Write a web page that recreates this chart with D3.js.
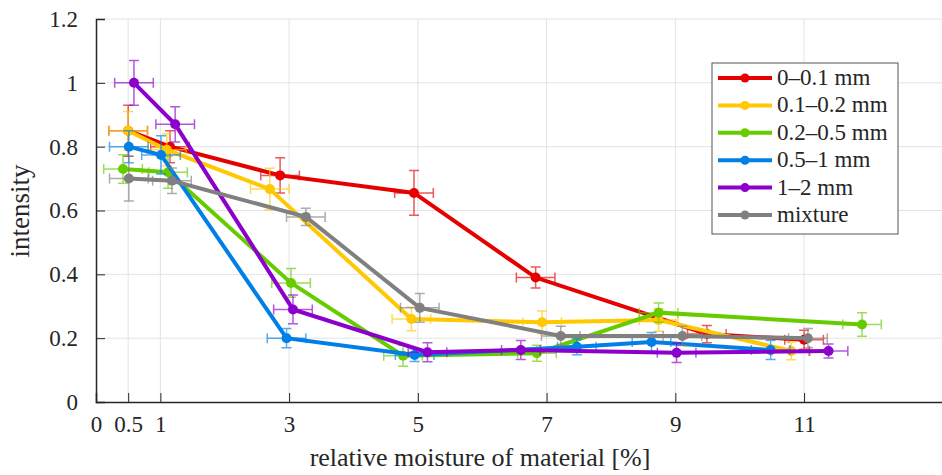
<!DOCTYPE html>
<html>
<head>
<meta charset="utf-8">
<script src="https://cdn.jsdelivr.net/npm/d3@7"></script>
<style>
	body { margin: 0; background: #fff; }
	svg text { font-family: "Liberation Serif", "DejaVu Serif", serif; fill: #262626; }
</style>
</head>
<body>
<svg id="chart" width="942" height="475"></svg>
<script>
// Tick labels
const xTicks = [0, 0.5, 1, 3, 5, 7, 9, 11];
const yTicks = [0, 0.2, 0.4, 0.6, 0.8, 1, 1.2];

// Series
const seriesNames = ["0\u20130.1 mm", "0.1\u20130.2 mm", "0.2\u20130.5 mm", "0.5\u20131 mm", "1\u20132 mm", "mixture"];
const seriesColors = ["#e60000", "#ffc800", "#66cc00", "#0080e6", "#8c00cc", "#808080"];

const moisture = [
	[0.5, 1.15, 2.86, 4.94, 6.83, 9.49, 11.0],
	[0.5, 1.1, 2.7, 4.9, 6.93, 8.74, 10.8],
	[0.42, 1.12, 3.03, 4.77, 6.85, 8.74, 11.9],
	[0.51, 1.01, 2.96, 4.95, 7.47, 8.63, 10.48],
	[0.59, 1.23, 3.06, 5.15, 6.6, 9.02, 11.38],
	[0.51, 1.18, 3.26, 5.03, 7.22, 9.11, 11.06]
];
const intensity = [
	[0.85, 0.80, 0.71, 0.655, 0.39, 0.213, 0.195],
	[0.85, 0.79, 0.667, 0.26, 0.25, 0.257, 0.16],
	[0.73, 0.72, 0.373, 0.145, 0.153, 0.28, 0.243],
	[0.80, 0.774, 0.20, 0.147, 0.173, 0.188, 0.163],
	[1.0, 0.87, 0.29, 0.156, 0.163, 0.154, 0.16],
	[0.70, 0.693, 0.58, 0.295, 0.207, 0.207, 0.2]
];
const intensityErr = [
	[0.08, 0.05, 0.055, 0.07, 0.033, 0.027, 0.03],
	[0.06, 0.05, 0.065, 0.037, 0.035, 0.035, 0.028],
	[0.045, 0.05, 0.045, 0.033, 0.025, 0.03, 0.037],
	[0.05, 0.06, 0.03, 0.02, 0.025, 0.03, 0.03],
	[0.07, 0.055, 0.045, 0.03, 0.03, 0.03, 0.022],
	[0.07, 0.04, 0.027, 0.045, 0.03, 0.03, 0.03]
];
const moistureErr = [0.3, 0.3, 0.3, 0.3, 0.3, 0.3];

const svg = d3.select("#chart");
const x = d3.scaleLinear().domain([0, 13.5]).range([96, 965]);
const y = d3.scaleLinear().domain([0, 1.2]).range([402, 19]);

// grid
const grid = svg.append("g");
grid.selectAll(".gx").data(xTicks.filter(d => d > 0)).join("line")
	.attr("x1", d => x(d)).attr("x2", d => x(d))
	.attr("y1", y(0)).attr("y2", y(1.2))
	.attr("stroke", "#e3e3e3").attr("stroke-width", 1);
grid.selectAll(".gy").data(yTicks.filter(d => d > 0)).join("line")
	.attr("x1", x(0)).attr("x2", 942)
	.attr("y1", d => y(d)).attr("y2", d => y(d))
	.attr("stroke", "#e3e3e3").attr("stroke-width", 1);

// axes
const xAxis = svg.append("g").attr("transform", `translate(0,${y(0)})`)
	.call(d3.axisBottom(x).tickValues(xTicks).tickSize(-9).tickPadding(14).tickFormat(d3.format("")));
const yAxis = svg.append("g").attr("transform", `translate(${x(0)},0)`)
	.call(d3.axisLeft(y).tickValues(yTicks).tickSize(-9).tickPadding(18).tickFormat(d3.format("")));
[xAxis, yAxis].forEach(a => {
	a.select(".domain").attr("stroke", "#262626").attr("stroke-width", 1.5);
	a.selectAll(".tick line").attr("stroke", "#262626");
	a.selectAll(".tick text").style("font-size", "23px").attr("fill", "#262626");
});

svg.append("text").attr("x", 480).attr("y", 466).attr("text-anchor", "middle")
	.style("font-size", "26px").text("relative moisture of material [%]");
svg.append("text").attr("transform", "translate(29,211) rotate(-90)").attr("text-anchor", "middle")
	.style("font-size", "27px").text("intensity");

// series: error bars, line, markers
const cap = 5;
seriesNames.forEach((name, i) => {
	const pts = moisture[i].map((m, j) => ({x: m, y: intensity[i][j], ey: intensityErr[i][j], ex: moistureErr[i]}));
	const g = svg.append("g");
	const eb = g.append("g").attr("stroke", seriesColors[i]).attr("stroke-width", 1.5).attr("opacity", 0.65).attr("fill", "none");
	pts.forEach(p => {
		const px = x(p.x), py = y(p.y);
		const y1 = y(p.y + p.ey), y2 = y(p.y - p.ey);
		const x1 = x(p.x - p.ex), x2 = x(p.x + p.ex);
		eb.append("path").attr("d",
			`M${px},${y1}V${y2}M${px - cap},${y1}H${px + cap}M${px - cap},${y2}H${px + cap}` +
			`M${x1},${py}H${x2}M${x1},${py - cap}V${py + cap}M${x2},${py - cap}V${py + cap}`);
	});
	g.append("path").datum(pts)
		.attr("d", d3.line().x(d => x(d.x)).y(d => y(d.y)))
		.attr("fill", "none").attr("stroke", seriesColors[i]).attr("stroke-width", 4);
	g.selectAll("circle").data(pts).join("circle")
		.attr("cx", d => x(d.x)).attr("cy", d => y(d.y)).attr("r", 5)
		.attr("fill", seriesColors[i]);
});

// legend
const legend = svg.append("g").attr("transform", "translate(712,63)");
legend.append("rect").attr("width", 186).attr("height", 171)
	.attr("fill", "#fff").attr("stroke", "#555").attr("stroke-width", 1);
seriesNames.forEach((name, i) => {
	const ly = 15 + i * 27.4;
	legend.append("line").attr("x1", 6).attr("x2", 60).attr("y1", ly).attr("y2", ly)
		.attr("stroke", seriesColors[i]).attr("stroke-width", 4);
	legend.append("circle").attr("cx", 33).attr("cy", ly).attr("r", 4.5).attr("fill", seriesColors[i]);
	legend.append("text").attr("x", 65).attr("y", ly + 7).style("font-size", "23px").text(name);
});
</script>
</body>
</html>
